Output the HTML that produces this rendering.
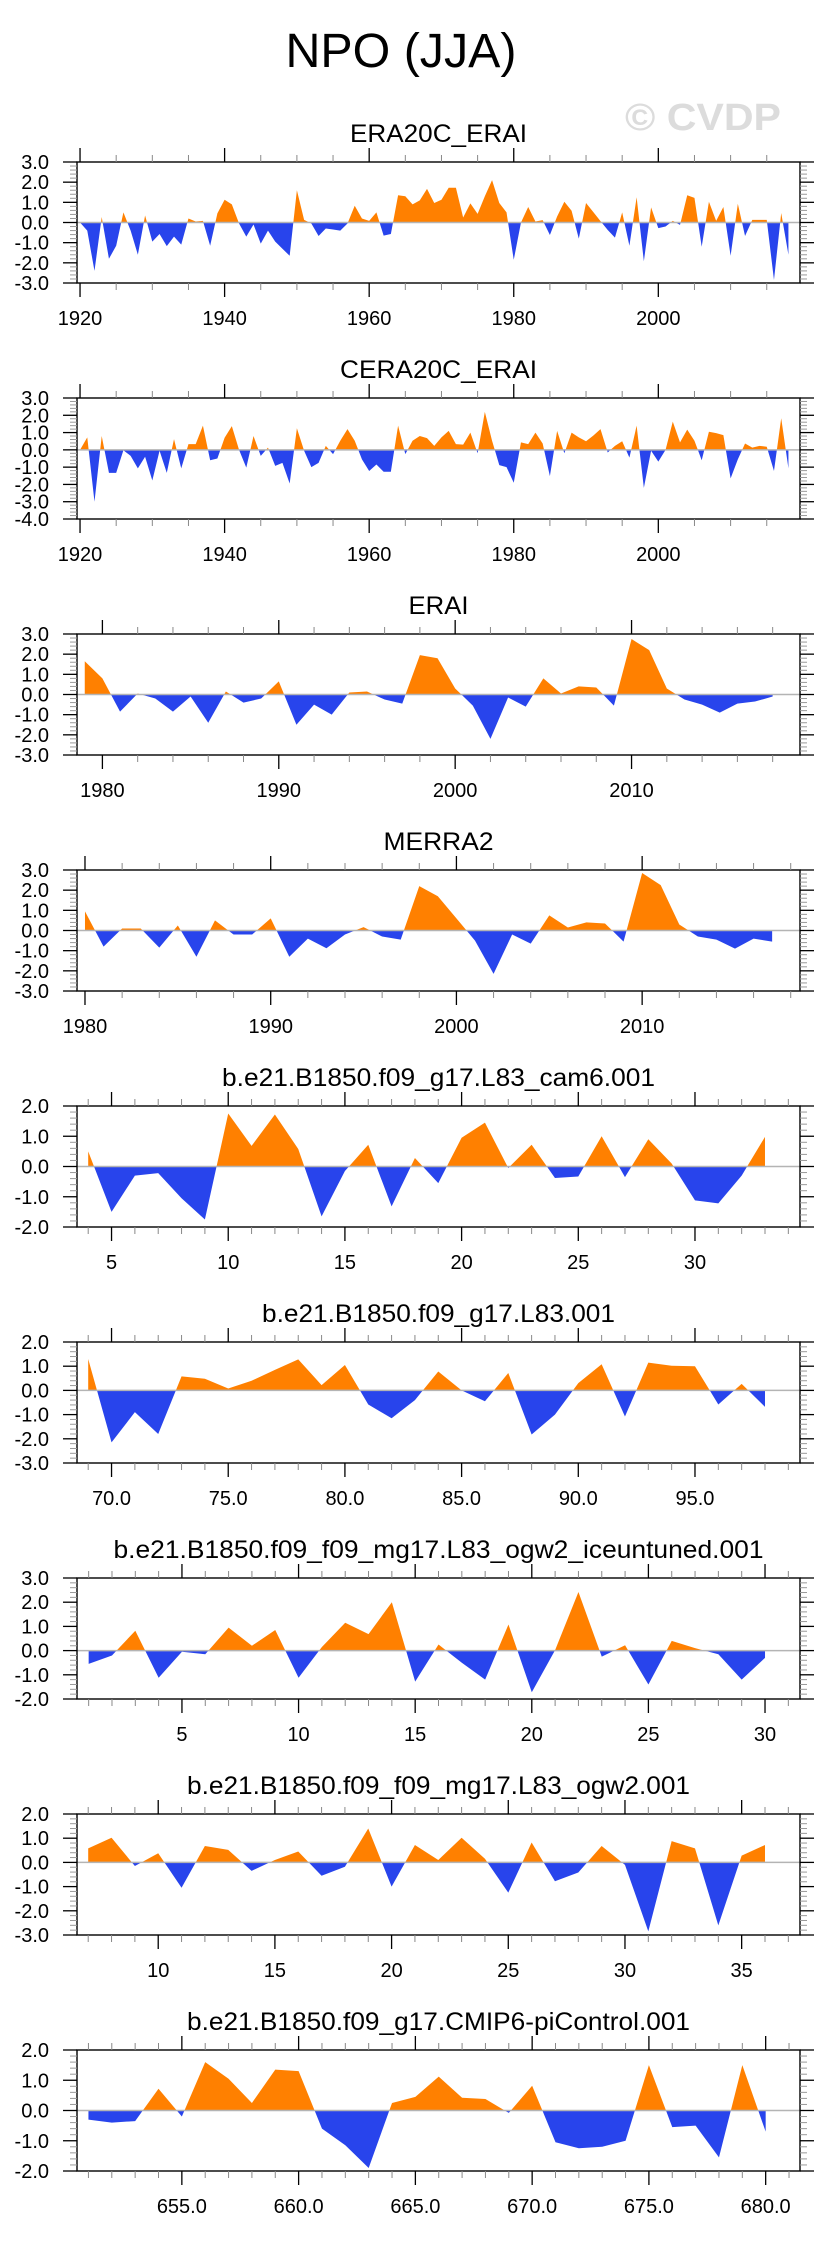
<!DOCTYPE html>
<html><head><meta charset="utf-8">
<style>
html,body{margin:0;padding:0;background:#fff;}
svg{display:block;font-family:"Liberation Sans",Arial,sans-serif;}
</style></head>
<body>
<svg id="fig" width="829" height="2245" viewBox="0 0 829 2245" xmlns="http://www.w3.org/2000/svg">
<rect width="829" height="2245" fill="#fff"/>
<text x="401" y="67" font-size="48" text-anchor="middle" textLength="231" lengthAdjust="spacingAndGlyphs">NPO (JJA)</text>
<text x="703" y="130" font-size="38" font-weight="bold" fill="#dcdcdc" text-anchor="middle" textLength="156" lengthAdjust="spacingAndGlyphs">© CVDP</text>
</svg>
<script>
// ---- data ----
const era20cStart = 1920;
const era20cValues = [0,-0.4,-2.4,0.27,-1.8,-1.15,0.5,-0.4,-1.6,0.35,-0.95,-0.57,-1.17,-0.7,-1.1,0.2,0.05,0.08,-1.15,0.45,1.13,0.9,-0.05,-0.7,-0.1,-1.05,-0.4,-0.95,-1.3,-1.65,1.6,0.13,-0.05,-0.67,-0.3,-0.35,-0.4,-0.05,0.83,0.2,0.08,0.5,-0.65,-0.57,1.35,1.3,0.9,1.1,1.67,0.97,1.13,1.72,1.72,0.25,0.95,0.43,1.3,2.1,0.97,0.5,-1.85,0.0,0.77,0.05,0.12,-0.62,0.3,1.03,0.58,-0.8,0.97,0.52,0.07,-0.37,-0.75,0.5,-1.15,1.25,-1.92,0.75,-0.28,-0.2,0.08,-0.12,1.35,1.22,-1.2,1.03,0.08,0.77,-1.65,0.93,-0.67,0.13,0.13,0.13,-2.85,0.47,-1.6];
const cera20cStart = 1920;
const cera20cValues = [0,0.72,-3.0,0.8,-1.33,-1.33,-0.02,-0.35,-1.07,-0.4,-1.77,-0.05,-1.33,0.62,-1.07,0.33,0.33,1.4,-0.6,-0.5,0.7,1.37,0,-1.03,0.8,-0.35,0.13,-0.93,-0.75,-1.95,1.25,-0.05,-1.0,-0.75,0.23,-0.25,0.53,1.2,0.53,-0.55,-1.22,-0.85,-1.27,-1.27,1.4,-0.25,0.53,0.8,0.68,0.23,0.72,1.1,0.33,0.3,1.0,-0.2,2.2,0.53,-0.88,-1.0,-1.9,0.43,0.33,1.0,0.37,-1.52,1.1,-0.2,1.0,0.72,0.5,0.82,1.2,-0.15,0.23,0.5,-0.45,1.4,-2.2,-0.05,-0.68,0.0,1.63,0.43,1.17,0.53,-0.6,1.05,0.97,0.85,-1.65,-0.55,0.37,0.13,0.23,0.18,-1.22,1.83,-1.07];
const eraiStart = 1979;
const eraiValues = [1.65,0.8,-0.85,0.05,-0.2,-0.85,-0.1,-1.4,0.15,-0.4,-0.2,0.65,-1.5,-0.5,-1.0,0.1,0.15,-0.25,-0.45,1.95,1.8,0.3,-0.55,-2.2,-0.15,-0.6,0.8,0.05,0.4,0.35,-0.55,2.75,2.2,0.3,-0.25,-0.5,-0.9,-0.45,-0.35,-0.1];
const merraStart = 1980;
const merraValues = [0.95,-0.8,0.1,0.1,-0.85,0.25,-1.3,0.5,-0.2,-0.2,0.6,-1.3,-0.4,-0.88,-0.2,0.17,-0.3,-0.45,2.2,1.7,0.6,-0.5,-2.15,-0.2,-0.65,0.75,0.15,0.4,0.35,-0.55,2.85,2.25,0.3,-0.3,-0.45,-0.9,-0.4,-0.55];
const cam6Start = 4;
const cam6Values = [0.5,-1.5,-0.3,-0.22,-1.05,-1.75,1.75,0.68,1.72,0.58,-1.65,-0.15,0.72,-1.32,0.28,-0.55,0.95,1.45,-0.05,0.72,-0.38,-0.33,1.0,-0.35,0.9,0.1,-1.12,-1.22,-0.3,0.98];
const l83Start = 69;
const l83Values = [1.3,-2.15,-0.9,-1.8,0.58,0.48,0.08,0.4,0.85,1.28,0.22,1.05,-0.58,-1.15,-0.4,0.78,0.0,-0.45,0.72,-1.82,-1.0,0.3,1.08,-1.08,1.15,1.02,1.0,-0.58,0.27,-0.68];
const iceStart = 1;
const iceValues = [-0.55,-0.2,0.82,-1.12,-0.05,-0.15,0.95,0.2,0.85,-1.12,0.15,1.15,0.68,2.0,-1.28,0.25,-0.5,-1.2,1.08,-1.72,0.02,2.42,-0.25,0.22,-1.4,0.4,0.1,-0.15,-1.2,-0.3];
const ogw2Start = 7;
const ogw2Values = [0.58,1.02,-0.15,0.38,-1.05,0.68,0.52,-0.35,0.1,0.45,-0.55,-0.18,1.4,-1.0,0.72,0.1,1.02,0.15,-1.25,0.82,-0.78,-0.42,0.68,-0.1,-2.85,0.88,0.58,-2.6,0.28,0.72];
const piStart = 651;
const piValues = [-0.3,-0.4,-0.35,0.72,-0.2,1.6,1.05,0.25,1.35,1.3,-0.6,-1.15,-1.9,0.25,0.45,1.12,0.42,0.38,-0.08,0.82,-1.05,-1.25,-1.2,-1.0,1.5,-0.55,-0.5,-1.55,1.5,-0.7];

// ---- axis settings (ranges / ticks) ----
const panels = [
 {name:"era20c-erai", title:"ERA20C_ERAI", tw:177, start:era20cStart, vals:era20cValues, xmin:1919.58, xmax:2019.6, ymin:-3, ymax:3, major:20, minor:5, dec:0},
 {name:"cera20c-erai", title:"CERA20C_ERAI", tw:197, start:cera20cStart, vals:cera20cValues, xmin:1919.58, xmax:2019.6, ymin:-4, ymax:3, major:20, minor:5, dec:0},
 {name:"erai", title:"ERAI", tw:60, start:eraiStart, vals:eraiValues, xmin:1978.56, xmax:2019.55, ymin:-3, ymax:3, major:10, minor:2, dec:0},
 {name:"merra2", title:"MERRA2", tw:110, start:merraStart, vals:merraValues, xmin:1979.57, xmax:2018.5, ymin:-3, ymax:3, major:10, minor:2, dec:0},
 {name:"cam6", title:"b.e21.B1850.f09_g17.L83_cam6.001", tw:433, start:cam6Start, vals:cam6Values, xmin:3.52, xmax:34.5, ymin:-2, ymax:2, major:5, minor:1, dec:0},
 {name:"l83", title:"b.e21.B1850.f09_g17.L83.001", tw:353, start:l83Start, vals:l83Values, xmin:68.52, xmax:99.5, ymin:-3, ymax:2, major:5, minor:1, dec:1},
 {name:"iceuntuned", title:"b.e21.B1850.f09_f09_mg17.L83_ogw2_iceuntuned.001", tw:650, start:iceStart, vals:iceValues, xmin:0.5, xmax:31.5, ymin:-2, ymax:3, major:5, minor:1, dec:0},
 {name:"ogw2", title:"b.e21.B1850.f09_f09_mg17.L83_ogw2.001", tw:503, start:ogw2Start, vals:ogw2Values, xmin:6.52, xmax:37.5, ymin:-3, ymax:2, major:5, minor:1, dec:0},
 {name:"picontrol", title:"b.e21.B1850.f09_g17.CMIP6-piControl.001", tw:503, start:piStart, vals:piValues, xmin:650.51, xmax:681.47, ymin:-2, ymax:2, major:5, minor:1, dec:1}
];

const NS="http://www.w3.org/2000/svg";
const svg=document.getElementById('fig');
function mk(tag,attrs,parent){const e=document.createElementNS(NS,tag);for(const k in attrs)e.setAttribute(k,attrs[k]);(parent||svg).appendChild(e);return e;}

const L=77,R=800,H=121;
panels.forEach((p,i)=>{
  const top=162+236*i, bot=top+H;
  const g=mk('g',{});
  
  
  const xs=v=>L+(v-p.xmin)/(p.xmax-p.xmin)*(R-L);
  const ys=v=>top+(p.ymax-v)/(p.ymax-p.ymin)*H;
  const t=mk('text',{x:438.5,y:top-20,'font-size':25,'text-anchor':'middle',textLength:p.tw,lengthAdjust:'spacingAndGlyphs'},g);
  t.textContent=p.title;
  
  
  const y0=ys(0);
  let d='M'+xs(p.start)+','+y0;
  p.vals.forEach((v,k)=>{d+=' L'+xs(p.start+k).toFixed(2)+','+ys(v).toFixed(2);});
  d+=' L'+xs(p.start+p.vals.length-1)+','+y0+' Z';
  const cidA='ca'+i, cidB='cb'+i;
  const defs=mk('defs',{},g);
  const cA=mk('clipPath',{id:cidA},defs); mk('rect',{x:L,y:top,width:R-L,height:y0-top},cA);
  const cB=mk('clipPath',{id:cidB},defs); mk('rect',{x:L,y:y0,width:R-L,height:bot-y0},cB);
  const pa=mk('path',{d:d,fill:'#ff8000','clip-path':'url(#'+cidA+')'},g);
  
  
  const pb=mk('path',{d:d,fill:'#2844ec','clip-path':'url(#'+cidB+')'},g);
  
  
  const zl=mk('line',{x1:L,x2:R,y1:y0,y2:y0,stroke:'#b4b4b4','stroke-width':1.5},g);
  
  
  const bx=mk('rect',{x:L,y:top,width:R-L,height:H,fill:'none',stroke:'#000','stroke-width':1.4},g);
  
  
  const first=Math.ceil(p.xmin/p.minor)*p.minor;
  for(let v=first; v<=p.xmax+1e-9; v+=p.minor){
    const x=xs(v); const isMaj=Math.abs(v/p.major-Math.round(v/p.major))<1e-6;
    const len=isMaj?14:7;
    mk('line',{x1:x,x2:x,y1:bot,y2:bot+len,stroke:isMaj?'#000':'#888','stroke-width':isMaj?1.3:1},g);
    mk('line',{x1:x,x2:x,y1:top,y2:top-len,stroke:isMaj?'#000':'#888','stroke-width':isMaj?1.3:1},g);
    if(isMaj){
      const lt=mk('text',{x:x,y:bot+42,'font-size':20,'text-anchor':'middle'},g);
      lt.textContent=v.toFixed(p.dec);
      
      
    }
  }
  for(let v=p.ymin; v<=p.ymax+1e-9; v+=0.2){
    const vv=Math.round(v*10)/10; const y=ys(vv);
    const isMaj=Math.abs(vv-Math.round(vv))<1e-6;
    const len=isMaj?14:7;
    mk('line',{x1:L,x2:L-len,y1:y,y2:y,stroke:isMaj?'#000':'#999','stroke-width':isMaj?1.3:1},g);
    mk('line',{x1:R,x2:R+len,y1:y,y2:y,stroke:isMaj?'#000':'#999','stroke-width':isMaj?1.3:1},g);
    if(isMaj){
      const yt=mk('text',{x:49,y:y+7,'font-size':20,'text-anchor':'end'},g);
      yt.textContent=vv.toFixed(1);
      
      
    }
  }
});
</script>
</body></html>
